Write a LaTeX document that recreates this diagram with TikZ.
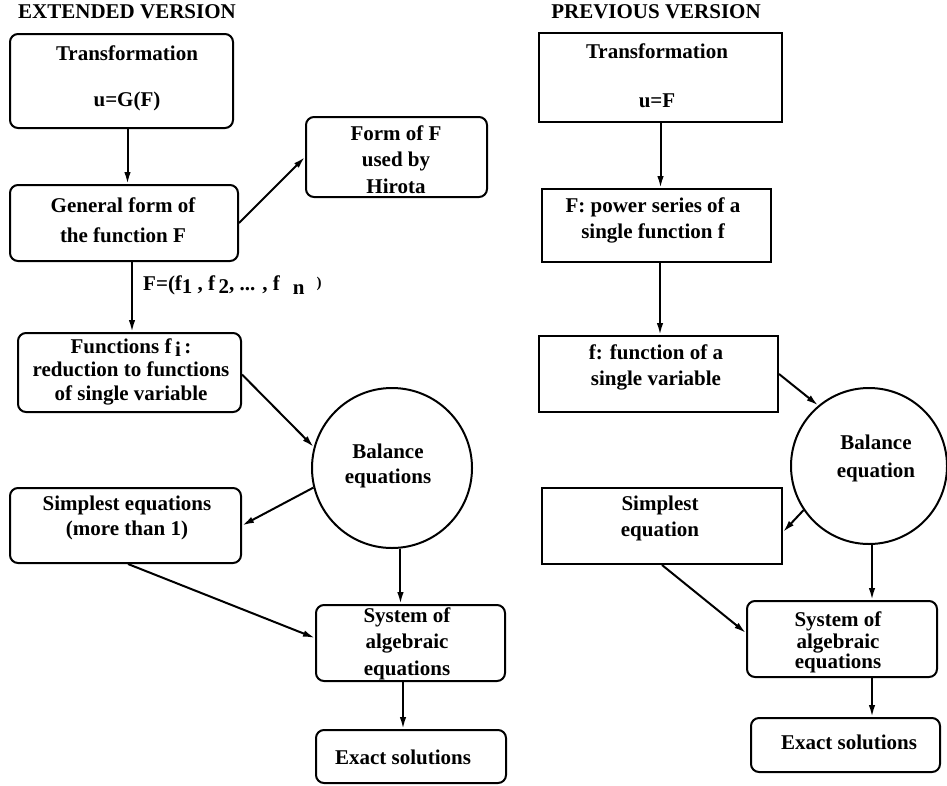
\documentclass[tikz,border=0pt]{standalone}
\usepackage{fontspec}
\setmainfont{Liberation Serif}
\usetikzlibrary{arrows.meta,fit,calc}
\newcommand{\boxfont}{\fontsize{21}{26}\selectfont\bfseries\lineskiplimit=-50pt\relax}
\tikzset{
  rbox/.style={draw, line width=2pt, rounded corners=8pt, inner sep=0pt},
  sbox/.style={draw, line width=2pt, inner sep=0pt},
  circ/.style={draw, circle, line width=2pt, inner sep=0pt},
  txt/.style={align=center, inner sep=0pt, font=\boxfont},
  arr/.style={line width=2pt, -{Latex[length=12pt,width=6.5pt]}}
}
\begin{document}
\begin{tikzpicture}[x=1pt,y=-1pt]
\useasboundingbox (0,0) rectangle (947,785);
% titles
\node[txt] (tl) at (127,12) {EXTENDED VERSION};
\node[txt] (tr) at (656,12) {PREVIOUS VERSION};
% ---------- left column ----------
\node[rbox, fit={(10,34) (233,128)}] (b1) {};
\node[txt] (b1t) at (127,78) {Transformation\\[20pt]u=G(F)};
\node[rbox, fit={(10,185) (238,261)}] (b2) {};
\node[txt] (b2t) at (123,220) {General form of\\[4pt]the function F};
\node[rbox, fit={(306,117) (487,197)}] (hir) {};
\node[txt] (hirt) at (396,159.5) {Form of F\\[0.5pt]used by\\[0.5pt]Hirota};
\node[rbox, fit={(18,333) (241,412)}] (b3) {};
\node[txt] (b3t) at (131,372) {Functions f\,\smash{\raisebox{-3pt}{i}}\,:\\[-3pt]reduction to functions\\[-2pt]of single variable};
\node[circ, minimum size=160pt] (cl) at (392,468) {};
\node[txt] (clt) at (388,465.5) {Balance\\[-1pt]equations};
\node[rbox, fit={(10,488) (241,563)}] (sl) {};
\node[txt] (slt) at (127,518) {Simplest equations\\[-1pt](more than 1)};
\node[rbox, fit={(316,605) (505,681)}] (sysl) {};
\node[txt] (syslt) at (407,643.5) {System of\\[0.5pt]algebraic\\[0.5pt]equations};
\node[rbox, fit={(316,730) (506,783)}] (exl) {};
\node[txt] (exlt) at (403,757) {Exact solutions};
\node[txt, anchor=west] (flab) at (143,285) {F=(f\smash{\raisebox{-3pt}{1}} , f\,\smash{\raisebox{-3pt}{2}}, ... , f\hspace{13pt}\smash{\raisebox{-4pt}{n}}\hspace{12pt}\smash{\raisebox{3pt}{\fontsize{15}{15}\selectfont )}}};
% left connectors
\draw[arr] ([xshift=6pt]b1.south) -- ([xshift=6pt]b1.south |- b2.north);
\draw[arr] ([xshift=8pt]b2.south) -- ([xshift=8pt]b2.south |- b3.north);
\draw[arr] (b2.east) -- (hir.west);
\draw[arr] ([yshift=-2pt]b3.east) -- (cl.165);
\draw[arr] (cl.194) -- (sl.east);
\draw[arr] (cl.276) -- (cl.276 |- sysl.north);
\draw[arr] ([xshift=2.5pt]sl.south) -- ([yshift=5pt]sysl.west);
\draw[arr] ([xshift=-7.5pt]sysl.south) -- ([xshift=-7.5pt]sysl.south |- exl.north);
% ---------- right column ----------
\node[sbox, fit={(539,33) (782,122)}] (r1) {};
\node[txt] (r1t) at (657,75.5) {Transformation\\[23pt]u=F};
\node[sbox, fit={(542,189) (771,262)}] (r2) {};
\node[txt] (r2t) at (653,220) {F: power series of a\\[0pt]single function f};
\node[sbox, fit={(539,336) (778,412)}] (r3) {};
\node[txt] (r3t) at (656,367) {f: function of a\\[0pt]single variable};
\node[circ, minimum size=156pt] (rc) at (869,466) {};
\node[txt] (rct) at (876,458) {Balance\\[2pt]equation};
\node[sbox, fit={(542,488) (782,564)}] (r4) {};
\node[txt] (r4t) at (660,518) {Simplest\\[0pt]equation};
\node[rbox, fit={(747,601) (937,677)}] (rsys) {};
\node[txt] (rsyst) at (838,642) {System of\\[-4pt]algebraic\\[-6pt]equations};
\node[rbox, fit={(751,718) (940,772)}] (rex) {};
\node[txt] (rext) at (849,742) {Exact solutions};
% right connectors
\draw[arr] (r1.south) -- (r1.south |- r2.north);
\draw[arr] ([xshift=3.5pt]r2.south) -- ([xshift=3.5pt]r2.south |- r3.north);
\draw[arr] (r3.east) -- (rc.130);
\draw[arr] (rc.214) -- ([yshift=-6pt]r4.east);
\draw[arr] ([xshift=3pt]rc.south) -- ([xshift=3pt]rc.south |- rsys.north);
\draw[arr] (r4.south) -- ([yshift=6pt]rsys.west);
\draw[arr] ([xshift=30pt]rsys.south) -- ([xshift=30pt]rsys.south |- rex.north);
\end{tikzpicture}
\end{document}
